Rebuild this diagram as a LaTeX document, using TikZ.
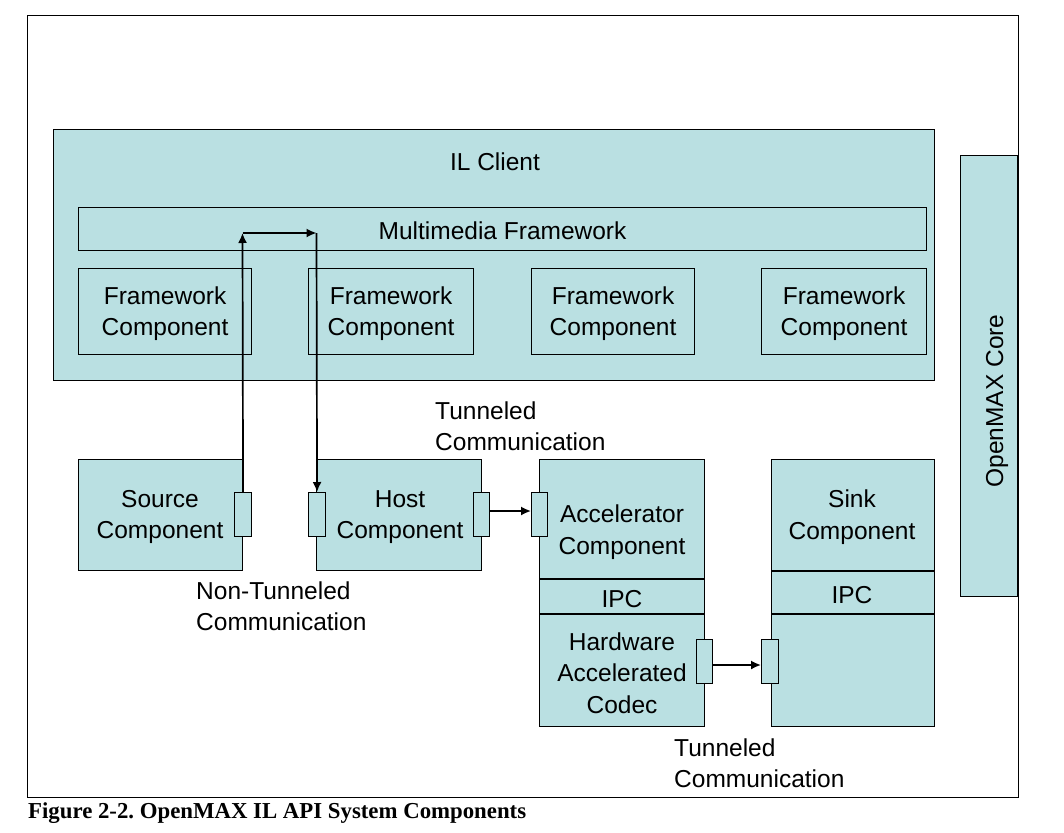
\documentclass[tikz,border=0pt]{standalone}
\usepackage{fontspec}
\setmainfont{Liberation Sans}
\newfontfamily\capfont{Liberation Serif}
\usetikzlibrary{arrows.meta}
\definecolor{boxfill}{RGB}{186,224,226}
\tikzset{
  box/.style={draw=black, fill=boxfill, line width=1.1pt, inner sep=0pt, anchor=north west},
  lbl/.style={inner sep=0pt, align=center, yshift=-2pt, font=\fontsize{24.5}{31.5}\selectfont},
  note/.style={inner sep=0pt, align=left, anchor=north west, font=\fontsize{24.5}{30.5}\selectfont},
  arr/.style={line width=1.7pt, -{Latex[length=10pt,width=9pt]}},
  divider/.style={line width=1.1pt},
}
\begin{document}
\frenchspacing
\begin{tikzpicture}[x=1pt,y=-1pt]
\useasboundingbox (0,0) rectangle (1064,832);
\draw[line width=1pt] (27,16) rectangle (1018,797);
% IL client
\node[box, minimum width=881pt, minimum height=251pt] (ilc) at (53,129) {};
\node[lbl] (ilct) at (495,160) {IL Client};
\node[box, minimum width=848pt, minimum height=43pt] (mmf) at (78,207) {};
\node[lbl] at (mmf.center) {Multimedia Framework};
\node[box, minimum width=173pt, minimum height=86pt] (fc1) at (78,268) {};
\node[box, minimum width=165pt, minimum height=86pt] (fc2) at (308,268) {};
\node[box, minimum width=163pt, minimum height=86pt] (fc3) at (531,268) {};
\node[box, minimum width=165pt, minimum height=86pt] (fc4) at (761,268) {};
\foreach \n in {fc1,fc2,fc3,fc4}{\node[lbl] at (\n.center) {Framework\\Component};}
% OpenMAX core
\node[box, minimum width=57pt, minimum height=441pt] (core) at (960,155) {};
\node[lbl, rotate=90, yshift=0pt] at (997,399) {OpenMAX Core};
% Source
\node[box, minimum width=164pt, minimum height=111pt] (src) at (78,459) {};
\node[lbl] at (160,515) {Source\\Component};
% Host
\node[box, minimum width=165pt, minimum height=111pt] (host) at (316,459) {};
\node[lbl] at (400,515) {Host\\Component};
% Accelerator
\node[box, minimum width=165pt, minimum height=267pt] (acc) at (539,459) {};
\draw[divider] (539,579) -- (704,579);
\draw[divider] (539,614) -- (704,614);
\node[lbl] at (622,530) {Accelerator\\Component};
\node[lbl] at (622,597) {IPC};
\node[lbl] at (622,671) {Hardware\\Accelerated\\Codec};
% Sink
\node[box, minimum width=163pt, minimum height=267pt] (sink) at (771,459) {};
\draw[divider] (771,571) -- (934,571);
\draw[divider] (771,614) -- (934,614);
\node[lbl] at (852,515) {Sink\\Component};
\node[lbl] at (852,593) {IPC};
% Ports
\node[box, minimum width=17pt, minimum height=44pt] (sp) at (234,492) {};
\node[box, minimum width=17pt, minimum height=44pt] (hpl) at (308,492) {};
\node[box, minimum width=16pt, minimum height=44pt] (hpr) at (473,492) {};
\node[box, minimum width=16pt, minimum height=44pt] (apl) at (531,492) {};
\node[box, minimum width=16pt, minimum height=44pt] (cpr) at (696,639) {};
\node[box, minimum width=17pt, minimum height=44pt] (spl) at (761,639) {};
% Non-tunneled path
\coordinate (c1) at (242.5,233);
\coordinate (c2) at (316.5,233);
\draw[arr] (sp.north) -- (c1);
\draw[arr] (c1) -- (c2);
\draw[arr] (c2) -- (hpl.north);
% Tunneled arrows
\coordinate (t1) at (0,511);
\coordinate (t2) at (0,665);
\draw[arr] (hpr.east |- t1) -- (apl.west |- t1);
\draw[arr] (cpr.east |- t2) -- (spl.west |- t2);
% Labels
\node[note] (tn1) at (435,402) {Tunneled\\Communication};
\node[note] (ntn) at (196,582) {Non-Tunneled\\Communication};
\node[note] (tn2) at (674,739) {Tunneled\\Communication};
% Caption
\node[inner sep=0pt, anchor=base west, font=\capfont\bfseries\fontsize{22.8}{27}\selectfont] (cap) at (28,818) {Figure 2-2. OpenMAX IL API System Components};
\end{tikzpicture}
\end{document}
